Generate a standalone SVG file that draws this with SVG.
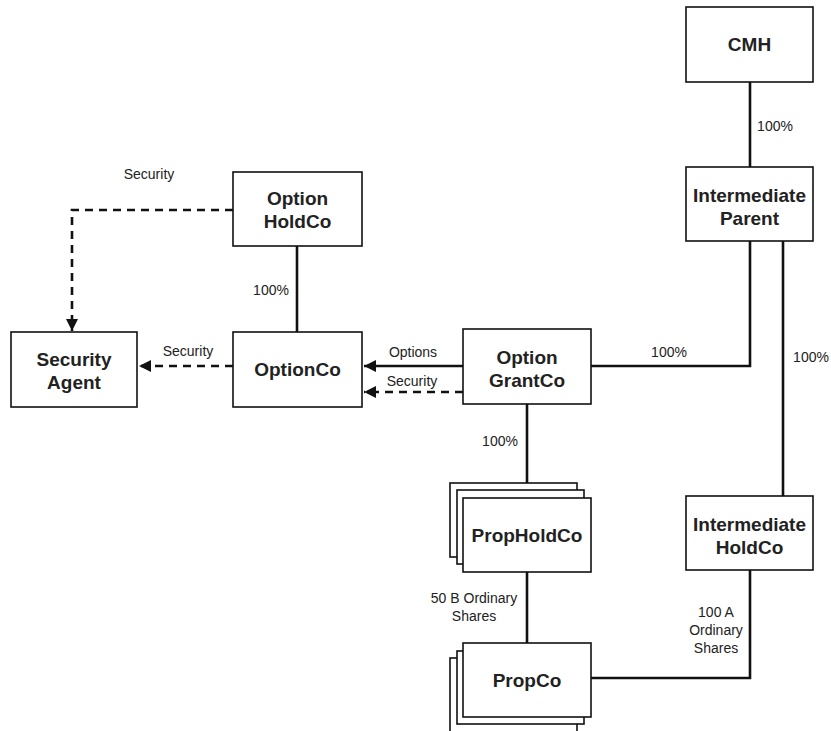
<svg xmlns="http://www.w3.org/2000/svg" width="831" height="731" viewBox="0 0 831 731">
<defs>
<style>
.box{fill:#fff;stroke:#111;stroke-width:1.6}
.nt{font-family:"Liberation Sans",Arial,sans-serif;font-weight:bold;font-size:19px;fill:#222;text-anchor:middle}
.lt{font-family:"Liberation Sans",Arial,sans-serif;font-size:14px;fill:#222;text-anchor:middle}
.ln{fill:none;stroke:#111;stroke-width:2.6}
.dl{fill:none;stroke:#111;stroke-width:2.6;stroke-dasharray:8,6}
</style>
<marker id="ah" markerWidth="12" markerHeight="12" refX="10" refY="5" orient="auto" markerUnits="userSpaceOnUse" viewBox="0 0 10 10">
<path d="M0,0 L10,5 L0,10 Z" fill="#111"/>
</marker>
</defs>
<rect width="831" height="731" fill="#fff"/>
<g id="connectors">
<line class="ln" x1="750" y1="82" x2="750" y2="167"/>
<polyline class="ln" points="750,241 750,366 591,366"/>
<line class="ln" x1="783" y1="241" x2="783" y2="496"/>
<line class="ln" x1="297" y1="246" x2="297" y2="332"/>
<polyline class="dl" points="233,210 72,210 72,331" marker-end="url(#ah)"/>
<line class="dl" x1="233" y1="366" x2="139" y2="366" marker-end="url(#ah)"/>
<line class="ln" x1="463" y1="366" x2="364" y2="366" marker-end="url(#ah)"/>
<line class="dl" x1="463" y1="392" x2="364" y2="392" marker-end="url(#ah)"/>
<line class="ln" x1="527" y1="404" x2="527" y2="483"/>
<line class="ln" x1="527" y1="572" x2="527" y2="643"/>
<polyline class="ln" points="750,570 750,678 591,678"/>
</g>
<g id="labels">
<text class="lt" x="149" y="179">Security</text>
<text class="lt" x="271" y="295">100%</text>
<text class="lt" x="188" y="356">Security</text>
<text class="lt" x="413" y="357">Options</text>
<text class="lt" x="412" y="386">Security</text>
<text class="lt" x="669" y="357">100%</text>
<text class="lt" x="811" y="362">100%</text>
<text class="lt" x="775" y="131">100%</text>
<text class="lt" x="500" y="446">100%</text>
<text class="lt" x="474" y="603">50 B Ordinary</text>
<text class="lt" x="474" y="621">Shares</text>
<text class="lt" x="716" y="617">100 A</text>
<text class="lt" x="716" y="635">Ordinary</text>
<text class="lt" x="716" y="653">Shares</text>
</g>
<g id="cmh"><rect class="box" x="686" y="7" width="127" height="75"/><text class="nt" x="749.5" y="51">CMH</text></g>
<g id="intermediate-parent"><rect class="box" x="686" y="167" width="127" height="74"/><text class="nt" x="749.5" y="202">Intermediate</text><text class="nt" x="749.5" y="225">Parent</text></g>
<g id="option-holdco"><rect class="box" x="233" y="172" width="129" height="74"/><text class="nt" x="297.5" y="205">Option</text><text class="nt" x="297.5" y="228">HoldCo</text></g>
<g id="security-agent"><rect class="box" x="11" y="332" width="126" height="75"/><text class="nt" x="74" y="366">Security</text><text class="nt" x="74" y="389">Agent</text></g>
<g id="optionco"><rect class="box" x="233" y="332" width="129" height="75"/><text class="nt" x="297.5" y="376">OptionCo</text></g>
<g id="option-grantco"><rect class="box" x="463" y="329" width="128" height="75"/><text class="nt" x="527" y="364">Option</text><text class="nt" x="527" y="387">GrantCo</text></g>
<g id="propholdco"><rect class="box" x="450" y="483" width="127" height="74"/><rect class="box" x="457" y="490" width="127" height="74"/><rect class="box" x="463" y="498" width="128" height="74"/><text class="nt" x="527" y="542">PropHoldCo</text></g>
<g id="intermediate-holdco"><rect class="box" x="686" y="496" width="127" height="74"/><text class="nt" x="749.5" y="531">Intermediate</text><text class="nt" x="749.5" y="554">HoldCo</text></g>
<g id="propco"><rect class="box" x="450" y="658" width="127" height="80"/><rect class="box" x="457" y="651" width="127" height="73"/><rect class="box" x="463" y="643" width="128" height="74"/><text class="nt" x="527" y="687">PropCo</text></g>
</svg>
